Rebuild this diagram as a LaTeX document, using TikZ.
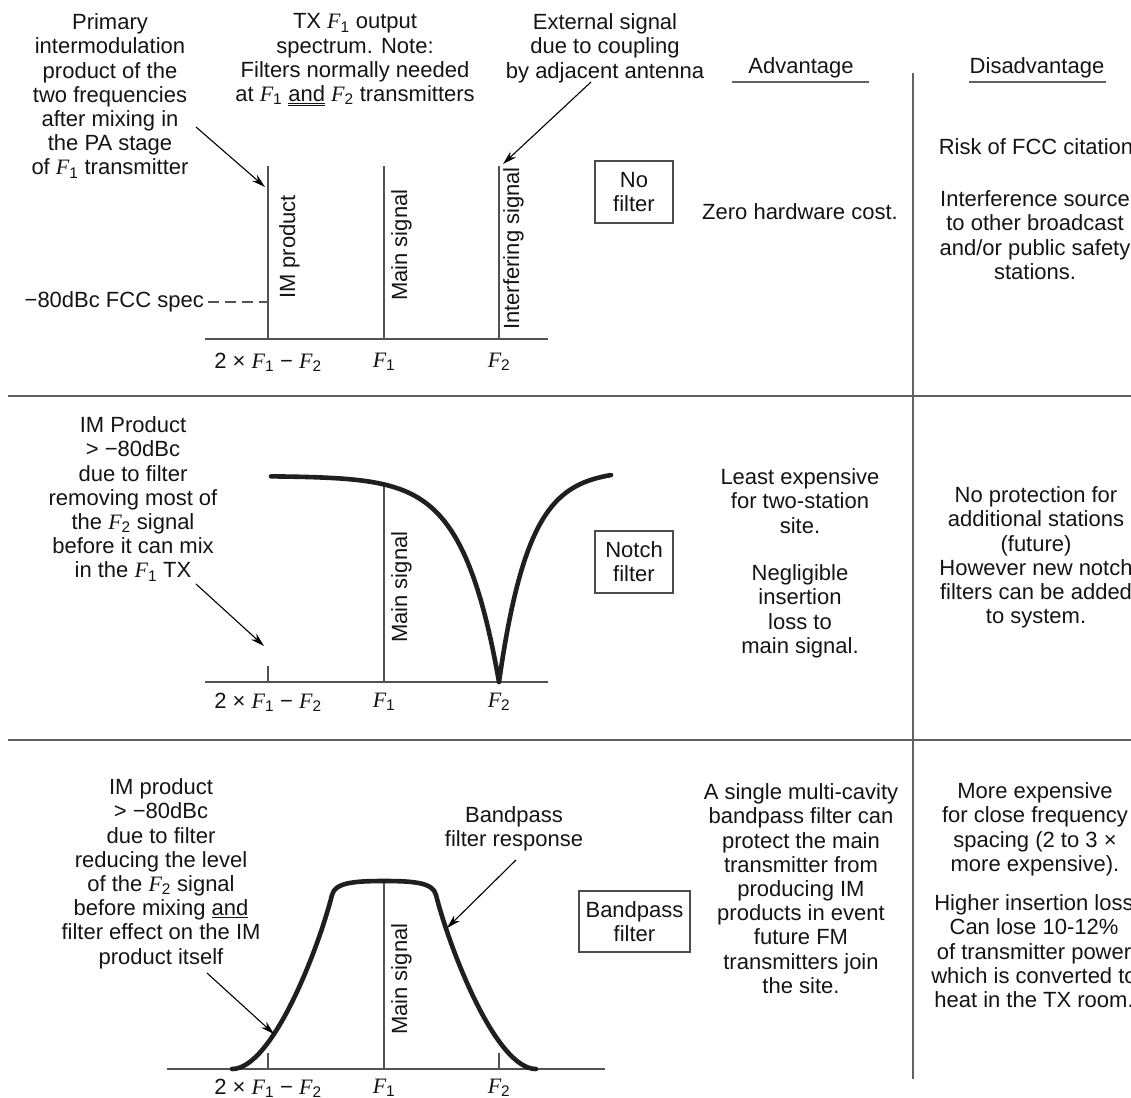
\documentclass[tikz,border=0pt]{standalone}
\usepackage{fix-cm}
\usepackage{fontspec}
\setmainfont{Liberation Sans}
\newfontfamily\timesfam{Liberation Serif}
\usetikzlibrary{arrows.meta}
\newcommand{\FF}[1]{{\timesfam\itshape F}\textsubscript{#1}}
\begin{document}
\begin{tikzpicture}[x=1pt,y=-1pt,
  txt/.style={font=\fontsize{22}{24.2}\selectfont, align=center, inner sep=0pt, text=black!92},
  sep/.style={draw=black!62, line width=1.6pt},
  sig/.style={draw=black!68, line width=1.4pt},
  curve/.style={draw=black!88, line width=4.6pt, line join=round, line cap=round},
  ptr/.style={draw=black, line width=1.1pt, -{Stealth[length=14pt,width=8pt]}},
  boxnode/.style={txt, draw=black!70, line width=1.3pt, minimum width=78pt, minimum height=62pt},
  rlab/.style={txt, rotate=90, anchor=north west},
  flab/.style={txt, anchor=center},
  note/.style={txt, anchor=north}]
\useasboundingbox (0,0) rectangle (1131,1097);
\clip (0,0) rectangle (1131,1097);

% ---------- grid ----------
\coordinate (s1l) at (8,396);  \coordinate (s1r) at (1131,396);
\coordinate (s2l) at (8,740);  \coordinate (s2r) at (1131,740);
\coordinate (vt) at (913,73);  \coordinate (vb) at (913,1079);
\draw[sep] (s1l) -- (s1r);
\draw[sep] (s2l) -- (s2r);
\draw[sep] (vt) -- (vb);

% headers
\node[txt] (advh) at (801,68) {Advantage};
\node[txt] (dish) at (1037,68) {Disadvantage};
\coordinate (u1l) at (732,82); \coordinate (u1r) at (869,82);
\coordinate (u2l) at (969,82); \coordinate (u2r) at (1106,82);
\draw[sep] (u1l) -- (u1r);
\draw[sep] (u2l) -- (u2r);

% ---------- panel 1 : no filter ----------
\coordinate (a1L) at (205,339); \coordinate (a1R) at (548,339);
\coordinate (im1t) at (268,166); \coordinate (im1b) at (268,339);
\coordinate (ms1t) at (384,166); \coordinate (ms1b) at (384,339);
\coordinate (if1t) at (499,166); \coordinate (if1b) at (499,339);
\draw[sig] (a1L) -- (a1R);
\draw[sig] (im1t) -- (im1b);
\draw[sig] (ms1t) -- (ms1b);
\draw[sig] (if1t) -- (if1b);
\node[rlab] (iml) at (279,299) {IM product};
\node[rlab] (msl1) at (391,301) {Main signal};
\node[rlab] (ifl) at (503,330) {Interfering signal};

\node[txt, anchor=east] (spec) at (204,302) {−80dBc FCC spec};
\coordinate (specend) at (268,302);
\draw[sig, dash pattern=on 11pt off 6pt] ([xshift=4pt]spec.east) -- (specend);

\node[flab] (x1a) at (268,362) {2 × \FF1 − \FF2};
\node[flab] (x1b) at (384,362) {\FF1};
\node[flab] (x1c) at (499,362) {\FF2};

\node[note] (prim) at (110,13.5) {Primary\\intermodulation\\product of the\\two frequencies\\after mixing in\\the PA stage\\of \FF1 transmitter};
\node[note] (tx) at (355,13.5) {TX \FF1 output\\spectrum. Note:\\Filters normally needed\\at \FF1 \underline{\underline{and}} \FF2 transmitters};
\node[note] (ext) at (605,13.5) {External signal\\due to coupling\\by adjacent antenna};
\coordinate (p1s) at (196,127); \coordinate (p1e) at (265,187);
\coordinate (e1s) at (591,82);  \coordinate (e1e) at (503,164);
\draw[ptr] (p1s) -- (p1e);
\draw[ptr] (e1s) -- (e1e);

\node[boxnode] (nof) at (634,192) {No\\filter};
\node[txt] (adv1) at (800,212) {Zero hardware cost.};
\node[note] (dis1a) at (1036,138.5) {Risk of FCC citation};
\node[note] (dis1b) at (1035,190.5) {Interference source\\to other broadcast\\and/or public safety\\stations.};

% ---------- panel 2 : notch filter ----------
\coordinate (a2L) at (205,682); \coordinate (a2R) at (548,682);
\coordinate (im2t) at (268,666); \coordinate (im2b) at (268,682);
\coordinate (ms2t) at (384,484.5); \coordinate (ms2b) at (384,682);
\draw[sig] (a2L) -- (a2R);
\draw[sig] (im2t) -- (im2b);
\draw[sig] (ms2t) -- (ms2b);
\draw[curve] plot[domain=271:499, samples=110] (\x, {682-206*(1-exp(-(499-\x)/36))})
  -- plot[domain=499:611, samples=70] (\x, {682-212*(1-exp(-(\x-499)/30))});
\node[rlab] (msl2) at (391,643) {Main signal};
\node[flab] (x2a) at (268,702) {2 × \FF1 − \FF2};
\node[flab] (x2b) at (384,702) {\FF1};
\node[flab] (x2c) at (499,702) {\FF2};

\node[note] (ann2) at (133,416.5) {IM Product\\> −80dBc\\due to filter\\removing most of\\the \FF2 signal\\before it can mix\\in the \FF1 TX};
\coordinate (n2s) at (196,584); \coordinate (n2e) at (264,646);
\draw[ptr] (n2s) -- (n2e);

\node[boxnode] (notch) at (634,562) {Notch\\filter};
\node[note] (adv2a) at (800,468.5) {Least expensive\\for two-station\\site.};
\node[note] (adv2b) at (800,564.5) {Negligible\\insertion\\loss to\\main signal.};
\node[note] (dis2) at (1036,486.5) {No protection for\\additional stations\\(future)\\However new notch\\filters can be added\\to system.};

% ---------- panel 3 : bandpass filter ----------
\coordinate (a3L) at (167,1069); \coordinate (a3R) at (605,1069);
\coordinate (im3t) at (268,1053); \coordinate (im3b) at (268,1069);
\coordinate (f23t) at (499,1053); \coordinate (f23b) at (499,1069);
\coordinate (ms3t) at (384,882); \coordinate (ms3b) at (384,1069);
\draw[sig] (a3L) -- (a3R);
\draw[sig] (im3t) -- (im3b);
\draw[sig] (f23t) -- (f23b);
\draw[sig] (ms3t) -- (ms3b);
\draw[curve] (232,1069) .. controls (272,1069) and (318,950) .. (332,895)
  .. controls (335,883) and (352,881) .. (384,881)
  .. controls (416,881) and (433,883) .. (436,895)
  .. controls (450,950) and (496,1069) .. (536,1069);
\node[rlab] (msl3) at (391,1035) {Main signal};
\node[flab] (x3a) at (268,1088) {2 × \FF1 − \FF2};
\node[flab] (x3b) at (384,1088) {\FF1};
\node[flab] (x3c) at (499,1088) {\FF2};

\node[note] (ann3) at (161,778.5) {IM product\\> −80dBc\\due to filter\\reducing the level\\of the \FF2 signal\\before mixing \underline{and}\\filter effect on the IM\\product itself};
\coordinate (b3s) at (207,973); \coordinate (b3e) at (274,1034);
\draw[ptr] (b3s) -- (b3e);
\node[note] (bpr) at (514,806.5) {Bandpass\\filter response};
\coordinate (r3s) at (516,860); \coordinate (r3e) at (447,928);
\draw[ptr] (r3s) -- (r3e);

\node[boxnode, minimum width=111pt, minimum height=61pt] (bpf) at (634.5,921.5) {Bandpass\\filter};
\node[note] (adv3) at (801,783.5) {A single multi-cavity\\bandpass filter can\\protect the main\\transmitter from\\producing IM\\products in event\\future FM\\transmitters join\\the site.};
\node[note] (dis3a) at (1035,782.5) {More expensive\\for close frequency\\spacing (2 to 3 ×\\more expensive).};
\node[note] (dis3b) at (1034,894.5) {Higher insertion loss\\Can lose 10-12\%\\of transmitter power\\which is converted to\\heat in the TX room.};
\end{tikzpicture}
\end{document}
